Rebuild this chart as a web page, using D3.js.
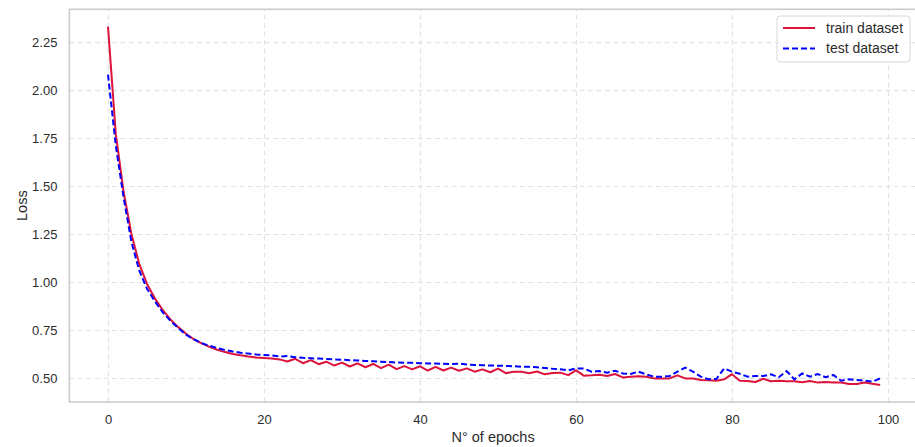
<!DOCTYPE html>
<html>
<head>
<meta charset="utf-8">
<script src="https://cdn.jsdelivr.net/npm/d3@7"></script>
<style>
  html, body { margin: 0; padding: 0; background: #fff; }
  svg { display: block; font-family: "Liberation Sans", Arial, sans-serif; }
</style>
</head>
<body>
<svg id="chart" width="915" height="447"></svg>
<script>
// Loss per epoch for the training run
const epochs = d3.range(0, 100);

const trainLoss = [
  2.330, 1.770, 1.470, 1.250, 1.095, 0.990, 0.915, 0.855, 0.805, 0.765,
  0.730, 0.702, 0.680, 0.662, 0.647, 0.635, 0.625, 0.618, 0.612, 0.607,
  0.604, 0.601, 0.597, 0.586, 0.600, 0.577, 0.593, 0.572, 0.585, 0.565,
  0.580, 0.560, 0.576, 0.556, 0.573, 0.551, 0.570, 0.546, 0.562, 0.545,
  0.561, 0.539, 0.558, 0.539, 0.554, 0.538, 0.550, 0.533, 0.545, 0.530,
  0.549, 0.525, 0.533, 0.533, 0.525, 0.534, 0.519, 0.526, 0.528, 0.515,
  0.540, 0.512, 0.514, 0.517, 0.510, 0.521, 0.503, 0.507, 0.509, 0.507,
  0.498, 0.498, 0.498, 0.514, 0.498, 0.497, 0.490, 0.488, 0.486, 0.493,
  0.520, 0.486, 0.484, 0.479, 0.496, 0.483, 0.486, 0.483, 0.483, 0.478,
  0.484, 0.476, 0.479, 0.476, 0.477, 0.469, 0.469, 0.476, 0.470, 0.464
];

const testLoss = [
  2.080, 1.710, 1.440, 1.210, 1.060, 0.965, 0.900, 0.843, 0.798, 0.760,
  0.726, 0.701, 0.682, 0.668, 0.656, 0.646, 0.638, 0.632, 0.627, 0.623,
  0.620, 0.617, 0.612, 0.614, 0.608, 0.605, 0.603, 0.601, 0.599, 0.597,
  0.595, 0.593, 0.591, 0.589, 0.587, 0.585, 0.583, 0.581, 0.580, 0.579,
  0.577, 0.576, 0.575, 0.574, 0.573, 0.575, 0.570, 0.568, 0.567, 0.565,
  0.564, 0.563, 0.561, 0.559, 0.558, 0.556, 0.552, 0.548, 0.546, 0.540,
  0.550, 0.549, 0.533, 0.536, 0.528, 0.538, 0.524, 0.521, 0.533, 0.519,
  0.507, 0.507, 0.510, 0.533, 0.554, 0.533, 0.507, 0.493, 0.495, 0.550,
  0.533, 0.522, 0.507, 0.510, 0.510, 0.519, 0.504, 0.536, 0.493, 0.524,
  0.507, 0.521, 0.504, 0.516, 0.486, 0.493, 0.490, 0.486, 0.481, 0.498
];

const xTicks = [0, 20, 40, 60, 80, 100];
const yTicks = [0.50, 0.75, 1.00, 1.25, 1.50, 1.75, 2.00, 2.25];

const seriesNames = ["train dataset", "test dataset"];
const seriesColors = ["#dc143c", "#0000ff"];

// Plot frame
const frame = { left: 69.4, right: 918.8, top: 9.3, bottom: 402 };

const x = d3.scaleLinear().domain([-4.95, 103.95]).range([frame.left, frame.right]);
const y = d3.scaleLinear().domain([0.375, 2.4205]).range([frame.bottom, frame.top]);

const svg = d3.select("#chart");

// Grid lines
const gridColor = "#e3e3e3";
const gx = svg.append("g")
  .attr("transform", `translate(0,${frame.bottom})`)
  .call(d3.axisBottom(x).tickValues(xTicks).tickSize(-(frame.bottom - frame.top)).tickFormat(""));
gx.select(".domain").remove();
gx.selectAll("line").attr("stroke", gridColor).attr("stroke-width", 1.2).attr("stroke-dasharray", "5,3.5");

const gy = svg.append("g")
  .attr("transform", `translate(${frame.left},0)`)
  .call(d3.axisLeft(y).tickValues(yTicks).tickSize(-(frame.right - frame.left)).tickFormat(""));
gy.select(".domain").remove();
gy.selectAll("line").attr("stroke", gridColor).attr("stroke-width", 1.2).attr("stroke-dasharray", "5,3.5");

// Curves
const lossLine = d3.line().x((d, i) => x(epochs[i])).y(d => y(d));
svg.append("path")
  .datum(trainLoss)
  .attr("d", lossLine)
  .attr("fill", "none")
  .attr("stroke", seriesColors[0])
  .attr("stroke-width", 2)
  .attr("stroke-linejoin", "round");

svg.append("path")
  .datum(testLoss)
  .attr("d", lossLine)
  .attr("fill", "none")
  .attr("stroke", seriesColors[1])
  .attr("stroke-width", 2)
  .attr("stroke-dasharray", "6,3");

// Spines
svg.append("rect")
  .attr("x", frame.left).attr("y", frame.top)
  .attr("width", frame.right - frame.left).attr("height", frame.bottom - frame.top)
  .attr("fill", "none").attr("stroke", "#cccccc").attr("stroke-width", 1.6);

// Tick labels
const labelColor = "#2b2b2b";
const ax = svg.append("g")
  .attr("transform", `translate(0,${frame.bottom})`)
  .call(d3.axisBottom(x).tickValues(xTicks).tickSize(0).tickPadding(13).tickFormat(d3.format("d")));
ax.select(".domain").remove();
ax.selectAll("text").attr("fill", labelColor).attr("font-size", 13).attr("font-family", "Liberation Sans, Arial, sans-serif");

const ay = svg.append("g")
  .attr("transform", `translate(${frame.left},0)`)
  .call(d3.axisLeft(y).tickValues(yTicks).tickSize(0).tickPadding(12).tickFormat(d3.format(".2f")));
ay.select(".domain").remove();
ay.selectAll("text").attr("fill", labelColor).attr("font-size", 13).attr("font-family", "Liberation Sans, Arial, sans-serif");

// Axis titles
svg.append("text")
  .attr("x", (frame.left + frame.right) / 2 - 1).attr("y", 442)
  .attr("text-anchor", "middle")
  .attr("fill", labelColor).attr("font-size", 14.5)
  .text("N° of epochs");

svg.append("text")
  .attr("transform", `translate(27,${(frame.top + frame.bottom) / 2}) rotate(-90)`)
  .attr("text-anchor", "middle")
  .attr("fill", labelColor).attr("font-size", 14.5)
  .text("Loss");

// Legend
const legend = svg.append("g").attr("transform", "translate(777,16)");
legend.append("rect")
  .attr("width", 133).attr("height", 46)
  .attr("rx", 3).attr("ry", 3)
  .attr("fill", "#ffffff").attr("fill-opacity", 0.85)
  .attr("stroke", "#d6d6d6").attr("stroke-width", 1);

seriesNames.forEach((name, i) => {
  const row = legend.append("g").attr("transform", `translate(0,${12 + i * 20.5})`);
  row.append("line")
    .attr("x1", 6).attr("x2", 38).attr("y1", 0).attr("y2", 0)
    .attr("stroke", seriesColors[i]).attr("stroke-width", 2)
    .attr("stroke-dasharray", i === 1 ? "6,3" : null);
  row.append("text")
    .attr("x", 49).attr("y", 0).attr("dy", "0.35em")
    .attr("fill", labelColor).attr("font-size", 14)
    .text(name);
});
</script>
</body>
</html>
